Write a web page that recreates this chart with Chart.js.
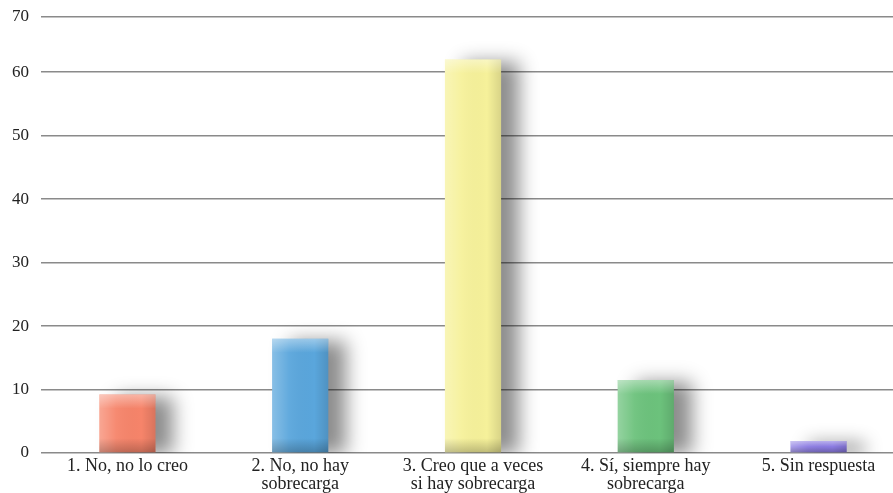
<!DOCTYPE html>
<html>
<head>
<meta charset="utf-8">
<script src="https://cdn.jsdelivr.net/npm/chart.js@4/dist/chart.umd.min.js"></script>
<style>
  html, body { margin: 0; padding: 0; background: #fff; overflow: hidden; }
  #wrap { position: absolute; left: 0; top: 0; width: 905px; height: 493px; }
</style>
</head>
<body>
<div id="wrap"><canvas id="chart"></canvas></div>
<script>
const categories = [
    ['1. No, no lo creo'],
    ['2. No, no hay', 'sobrecarga'],
    ['3. Creo que a veces', 'si hay sobrecarga'],
    ['4. Sí, siempre hay', 'sobrecarga'],
    ['5. Sin respuesta']
];
const values = [9.2, 18.0, 62.0, 11.5, 1.9];
const barColors = ['#f6846a', '#5aa6dc', '#f6f19a', '#6cc27c', '#8c7ce2'];
const yTickLabels = ['0', '10', '20', '30', '40', '50', '60', '70'];
const yAxisTop = 68.7;

const serif = '"Liberation Serif", "DejaVu Serif", serif';

// soft drop shadow behind the bars
const barShadow = {
    id: 'barShadow',
    beforeDatasetDraw(chart) {
        const c = chart.ctx;
        c.save();
        c.shadowColor = 'rgba(0,0,0,0.45)';
        c.shadowBlur = 18;
        c.shadowOffsetX = 18;
        c.shadowOffsetY = 2;
    },
    afterDatasetDraw(chart) {
        chart.ctx.restore();
    }
};

// glossy shading drawn over each bar
const barGloss = {
    id: 'barGloss',
    afterDatasetsDraw(chart) {
        const c = chart.ctx;
        chart.getDatasetMeta(0).data.forEach(bar => {
            const { x, y, base, width } = bar.getProps(['x', 'y', 'base', 'width'], true);
            const l = x - width / 2, h = base - y;
            c.save();
            let g = c.createLinearGradient(l, 0, l + width, 0);
            g.addColorStop(0, 'rgba(255,255,255,0.28)');
            g.addColorStop(0.3, 'rgba(255,255,255,0.05)');
            g.addColorStop(0.75, 'rgba(0,0,0,0)');
            g.addColorStop(1, 'rgba(0,0,0,0.12)');
            c.fillStyle = g;
            c.fillRect(l, y, width, h);
            const cap = Math.min(14, h / 2);
            g = c.createLinearGradient(0, y, 0, y + cap);
            g.addColorStop(0, 'rgba(255,255,255,0.4)');
            g.addColorStop(1, 'rgba(255,255,255,0)');
            c.fillStyle = g;
            c.fillRect(l, y, width, cap);
            g = c.createLinearGradient(0, base - cap, 0, base);
            g.addColorStop(0, 'rgba(0,0,0,0)');
            g.addColorStop(1, 'rgba(0,0,0,0.22)');
            c.fillStyle = g;
            c.fillRect(l, base - cap, width, cap);
            c.restore();
        });
    }
};

new Chart(document.getElementById('chart'), {
    type: 'bar',
    data: {
        labels: categories,
        datasets: [{
            data: values,
            backgroundColor: barColors,
            borderWidth: 0,
            barPercentage: 0.325,
            categoryPercentage: 1
        }]
    },
    options: {
        responsive: true,
        maintainAspectRatio: false,
        animation: false,
        layout: { padding: { top: 0, left: 0, right: 0, bottom: -4 } },
        plugins: {
            legend: { display: false },
            tooltip: { enabled: false }
        },
        scales: {
            x: {
                grid: { display: false, drawTicks: false },
                border: { display: false },
                ticks: {
                    color: '#222',
                    font: { family: serif, size: 18, lineHeight: 1.0 },
                    padding: 4,
                    maxRotation: 0,
                    autoSkip: false
                }
            },
            y: {
                min: 0,
                max: yAxisTop,
                afterBuildTicks(scale) {
                    scale.ticks = yTickLabels.map((t, i) => ({
                        value: i < yTickLabels.length - 1 ? i * 10 : yAxisTop
                    }));
                },
                afterFit(scale) {
                    scale.paddingTop = 17;
                },
                grid: { color: '#8a8a8a', lineWidth: 1.6, drawTicks: false },
                border: { display: false },
                ticks: {
                    color: '#222',
                    font: { family: serif, size: 17 },
                    padding: 12,
                    callback: (v, i) => yTickLabels[i]
                }
            }
        }
    },
    plugins: [barShadow, barGloss]
});
</script>
</body>
</html>
